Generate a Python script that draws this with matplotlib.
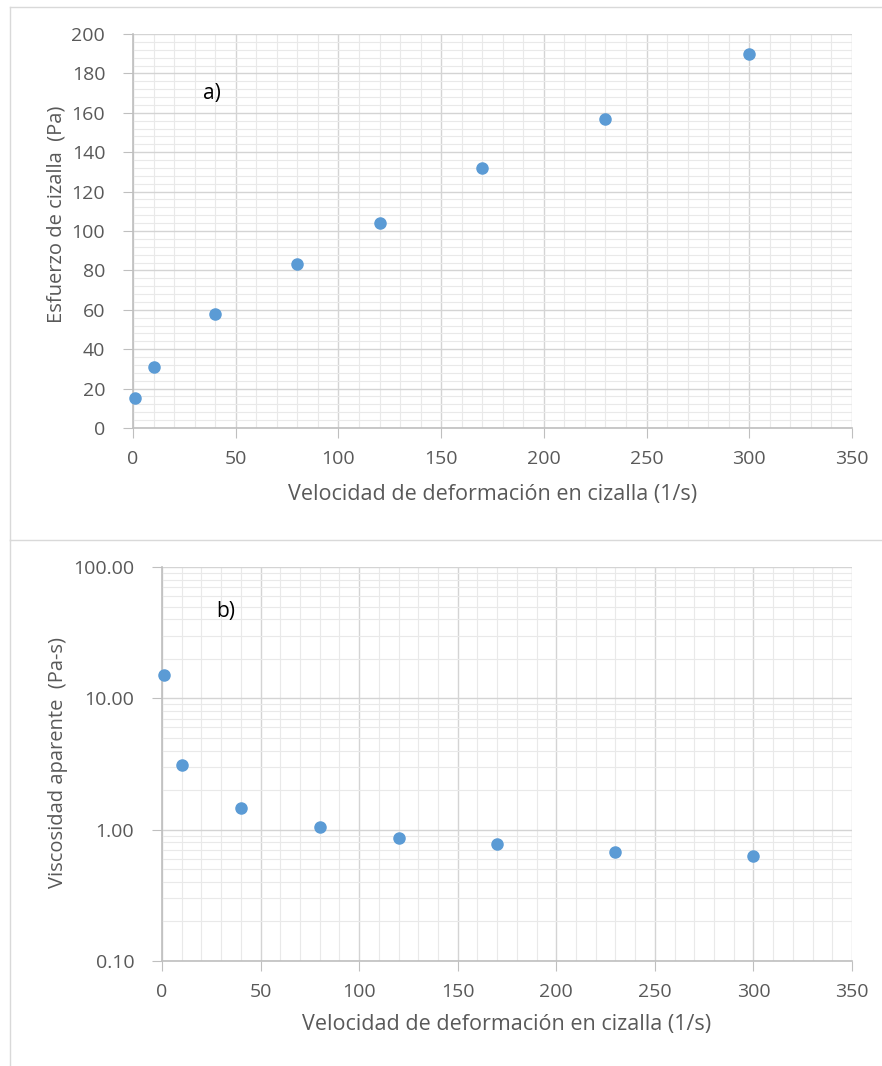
import numpy as np
import matplotlib
matplotlib.use('Agg')
import matplotlib.pyplot as plt
from matplotlib.ticker import MultipleLocator, FixedLocator, NullFormatter, FuncFormatter
from matplotlib.lines import Line2D

# data
shear_rate = [1, 10, 40, 80, 120, 170, 230, 300]
shear_stress = [15, 31, 58, 83, 104, 132, 157, 190]
viscosity = [15.0, 3.1, 1.45, 1.04, 0.86, 0.78, 0.68, 0.63]

x_label = 'Velocidad de deformación en cizalla (1/s)'
y_label_a = 'Esfuerzo de cizalla  (Pa)'
y_label_b = 'Viscosidad aparente  (Pa-s)'

plt.rcParams['font.family'] = ['Open Sans', 'DejaVu Sans']

TXT = '#595959'
MAJ = '#d4d4d4'
MINOR = '#e9e9e9'
BLUE = '#5b9bd5'

fig = plt.figure(figsize=(8.82, 10.66), dpi=100)

# chart frames
W, H = 882, 1066
for y0, y1 in [(7, 540), (540, 1070)]:
    fig.add_artist(Line2D([10 / W, 10 / W], [1 - y0 / H, 1 - y1 / H], color='#d9d9d9', lw=1))
    fig.add_artist(Line2D([10 / W, 1], [1 - y0 / H, 1 - y0 / H], color='#d9d9d9', lw=1))


def style(ax):
    for s in ['top', 'right']:
        ax.spines[s].set_visible(False)
    for s in ['left', 'bottom']:
        ax.spines[s].set_color('#bfbfbf')
        ax.spines[s].set_linewidth(1.2)
    ax.grid(which='major', color=MAJ, lw=1.0)
    ax.grid(which='minor', color=MINOR, lw=0.8)
    ax.set_axisbelow(True)
    ax.tick_params(which='major', length=7, color='#bfbfbf', labelcolor=TXT, labelsize=14)
    ax.tick_params(which='minor', length=0)
    ax.tick_params(axis='x', pad=9)
    ax.tick_params(axis='y', pad=13)
    ax.set_xlim(0, 350)
    ax.xaxis.set_major_locator(MultipleLocator(50))
    ax.xaxis.set_minor_locator(MultipleLocator(10))


# --- a) shear stress ---
ax1 = fig.add_axes([133 / W, 1 - 428 / H, 719 / W, 394 / H])
style(ax1)
ax1.set_ylim(0, 200)
ax1.yaxis.set_major_locator(MultipleLocator(20))
ax1.yaxis.set_minor_locator(MultipleLocator(4))
ax1.scatter(shear_rate, shear_stress, s=64, color=BLUE, zorder=3, clip_on=False)
ax1.set_xlabel(x_label, fontsize=15.5, color=TXT, va='center')
ax1.set_ylabel(y_label_a, fontsize=14.5, color=TXT, va='center')
ax1.xaxis.set_label_coords(0.5, -0.170)
ax1.yaxis.set_label_coords(-0.106, 0.543)
ax1.text(0.098, 0.85, 'a)', transform=ax1.transAxes, fontsize=15, color='black', va='center')

# --- b) apparent viscosity ---
ax2 = fig.add_axes([162 / W, 1 - 961 / H, 690 / W, 394 / H])
style(ax2)
ax2.set_yscale('log')
ax2.set_ylim(0.1, 100)
ax2.yaxis.set_major_locator(FixedLocator([0.1, 1, 10, 100]))
ax2.yaxis.set_major_formatter(FuncFormatter(lambda v, p: f'{v:.2f}'))
ax2.yaxis.set_minor_locator(FixedLocator([m * 10.0 ** e for e in (-1, 0, 1) for m in range(2, 10)]))
ax2.yaxis.set_minor_formatter(NullFormatter())
ax2.scatter(shear_rate, viscosity, s=64, color=BLUE, zorder=3, clip_on=False)
ax2.set_xlabel(x_label, fontsize=15.5, color=TXT, va='center')
ax2.set_ylabel(y_label_b, fontsize=14.5, color=TXT, va='center')
ax2.xaxis.set_label_coords(0.5, -0.162)
ax2.yaxis.set_label_coords(-0.151, 0.503)
ax2.text(0.078, 0.886, 'b)', transform=ax2.transAxes, fontsize=15, color='black', va='center')

fig.savefig('out.png', dpi=100)
